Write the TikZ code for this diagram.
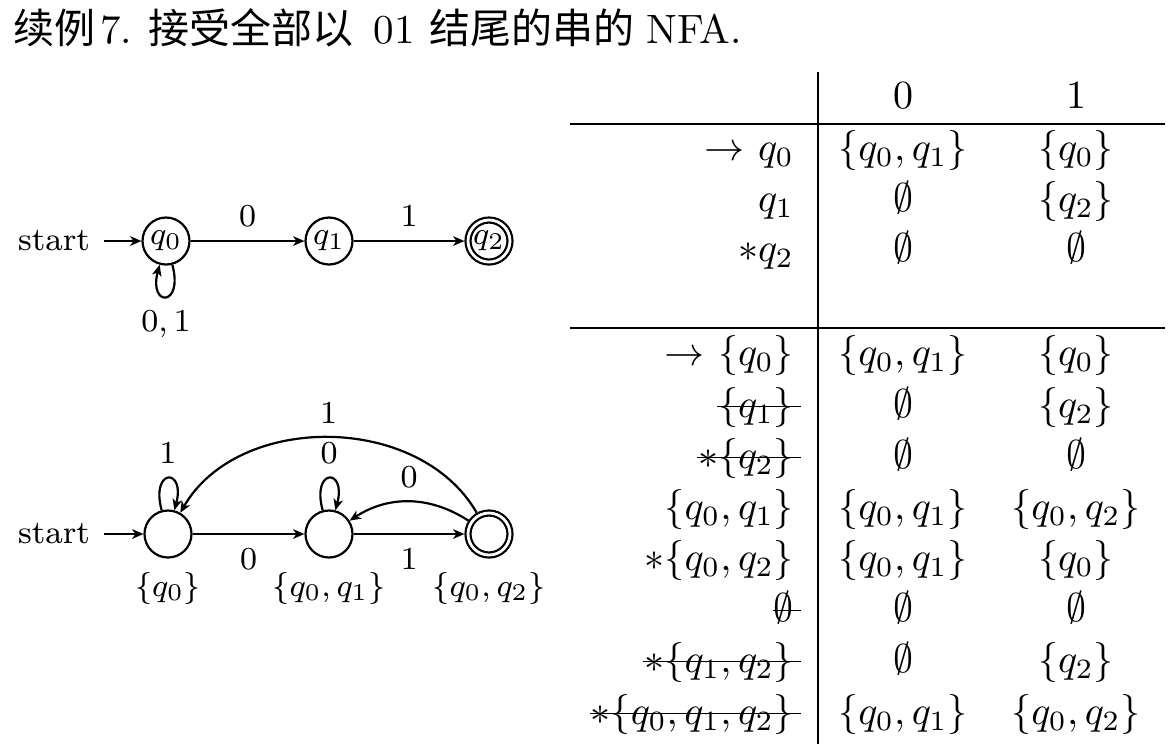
\documentclass[tikz,border=0pt]{standalone}
\usepackage{fontspec}
\usepackage{amsmath,amssymb}
\newfontfamily\cjk{Noto Sans CJK SC}
\usepackage{tikz}
\usetikzlibrary{arrows.meta}

\begin{document}
\begin{tikzpicture}[
  x=0.25pt, y=0.25pt,
  line width=0.55pt,
  >={Stealth[length=2.8pt, width=2.4pt, inset=0.8pt]},
  tfont/.style={font=\fontsize{10.25}{12}\selectfont},
  afont/.style={font=\fontsize{8.2}{10}\selectfont},
  lab/.style={afont},
  state/.style={circle, draw, afont, minimum size=11.75pt, inner sep=0pt},
  accept/.style={state, minimum size=10.5pt, double, double distance=0.7pt, outer sep=0.9pt},
  cell/.style={tfont, anchor=base, inner sep=0pt},
  head/.style={cell, anchor=base east},
  rule/.style={line width=0.4pt},
  every loop/.style={min distance=11pt},
]
  % picture frame: 1 unit = 1 pixel of the slide, y goes down as -y
  \useasboundingbox (0,0) rectangle (1170,-744);

  % Title
  \node[tfont, anchor=base west, inner sep=0pt] (title) at (12,-43)
    {{\cjk 续例}\hspace{0.12em}7.\hspace{0.4em}{\cjk 接受全部以}\hspace{0.5em}01\hspace{0.35em}{\cjk 结尾的串的}\hspace{0.3em}NFA.};

  % NFA (top)
  \node[lab] (st1) at (54,-241) {start};
  \node[state] (q0) at (166,-241) {$q_0$};
  \node[state] (q1) at (329,-241) {$q_1$};
  \node[accept] (q2) at (489,-241) {$q_2$};
  \draw[->] (st1) -- (q0);
  \draw[->] (q0) -- node[lab, above] {$0$} (q1);
  \draw[->] (q1) -- node[lab, above] {$1$} (q2);
  \draw[->] (q0) to[loop below] node[lab] {$0,1$} (q0);

  % DFA from the subset construction (bottom)
  \node[lab] (st2) at (54,-534) {start};
  \node[state] (p0) at (168,-534) {};
  \node[state] (p1) at (329,-534) {};
  \node[accept] (p2) at (489,-534) {};
  \node[lab] (n0) at (168,-588) {$\{q_0\}$};
  \node[lab] (n1) at (329,-588) {$\{q_0,q_1\}$};
  \node[lab] (n2) at (489,-588) {$\{q_0,q_2\}$};
  \draw[->] (st2) -- (p0);
  \draw[->] (p0) -- node[lab, below] {$0$} (p1);
  \draw[->] (p1) -- node[lab, below] {$1$} (p2);
  \draw[->] (p0) to[loop above] node[lab] {$1$} (p0);
  \draw[->] (p1) to[loop above] node[lab] {$0$} (p1);
  \draw[->] (p2) to[bend right=33] node[lab, above] {$0$} (p1);
  \draw[->] (p2) to[bend right=60] node[lab, above] {$1$} (p0);

  % Transition table: rules
  \draw[rule] (818,-72) -- (818,-744);
  \draw[rule] (570,-124) -- (1165,-124);
  \draw[rule] (570,-328) -- (1165,-328);

  % header
  \node[cell] (h0) at (903,-108) {$0$};
  \node[cell] (h1) at (1076,-108) {$1$};

  % NFA rows (baseline, state, on 0, on 1)
  \foreach \y/\s/\a/\b [count=\i] in {%
    160/{$\to$ $q_0$}/{\{q_0,q_1\}}/{\{q_0\}},%
    211/{$q_1$}/{\emptyset}/{\{q_2\}},%
    261/{$*q_2$}/{\emptyset}/{\emptyset}%
  }{
    \node[head] (s\i) at (795,-\y) {\s};
    \node[cell] (a\i) at (903,-\y) {$\a$};
    \node[cell] (b\i) at (1076,-\y) {$\b$};
  }

  % subset rows (baseline, struck out?, state, on 0, on 1)
  \foreach \y/\k/\s/\a/\b [count=\i] in {%
    365/0/{$\to$ $\{q_0\}$}/{\{q_0,q_1\}}/{\{q_0\}},%
    417/1/{$\{q_1\}$}/{\emptyset}/{\{q_2\}},%
    468/1/{$*\{q_2\}$}/{\emptyset}/{\emptyset},%
    519/0/{$\{q_0,q_1\}$}/{\{q_0,q_1\}}/{\{q_0,q_2\}},%
    570/0/{$*\{q_0,q_2\}$}/{\{q_0,q_1\}}/{\{q_0\}},%
    621/1/{$\emptyset$}/{\emptyset}/{\emptyset},%
    672/1/{$*\{q_1,q_2\}$}/{\emptyset}/{\{q_2\}},%
    724/1/{$*\{q_0,q_1,q_2\}$}/{\{q_0,q_1\}}/{\{q_0,q_2\}}%
  }{
    \node[head] (t\i) at (795,-\y) {\s};
    \node[cell] (c\i) at (903,-\y) {$\a$};
    \node[cell] (e\i) at (1076,-\y) {$\b$};
    \ifnum\k=1
      \draw[rule] ([yshift=2.6pt]t\i.base west) -- ([yshift=2.6pt, xshift=1.5pt]t\i.base east);
    \fi
  }
\end{tikzpicture}
\end{document}
